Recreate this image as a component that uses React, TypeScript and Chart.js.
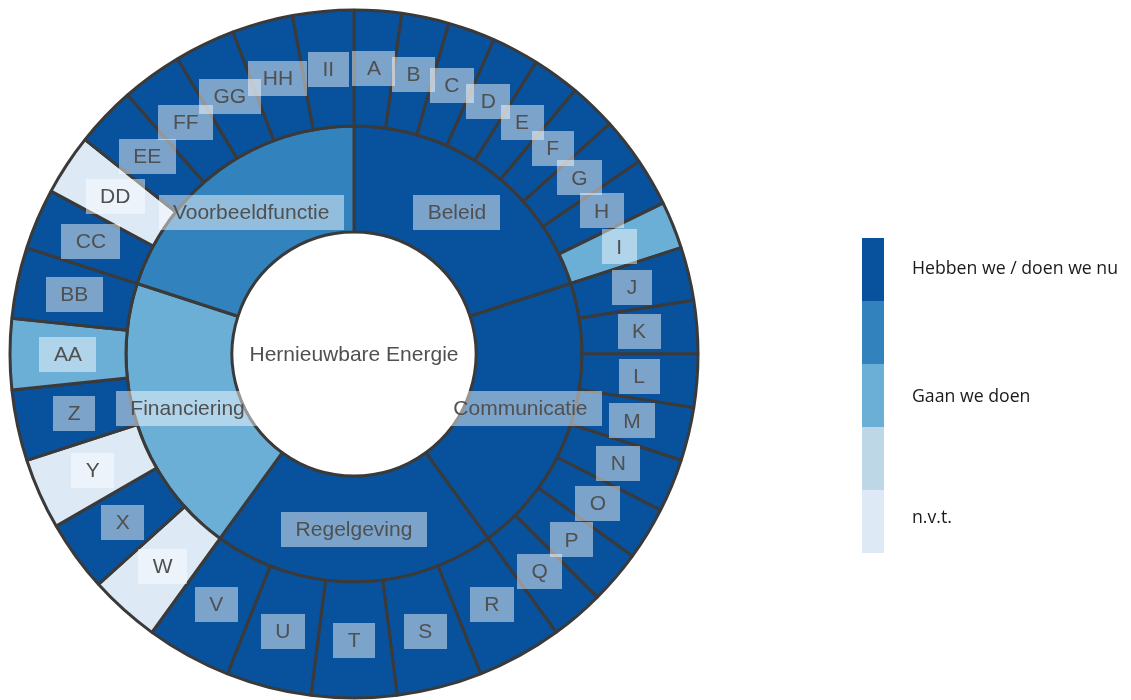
import React, { useEffect, useRef } from 'react';
import { Chart, registerables } from 'chart.js';

Chart.register(...registerables);

const centerLabel = 'Hernieuwbare Energie';

const statusLabels = ['Hebben we / doen we nu', '', 'Gaan we doen', '', 'n.v.t.'];
const statusColors = ['#08519c', '#3182bd', '#6baed6', '#bdd7e7', '#dde9f5'];

const themeLabels = ['Beleid', 'Communicatie', 'Regelgeving', 'Financiering', 'Voorbeeldfunctie'];
const themeValues = [72, 72, 72, 72, 72];
const themeStatus = [0, 0, 0, 2, 1];

const itemLabels = [
  'A', 'B', 'C', 'D', 'E', 'F', 'G', 'H', 'I',
  'J', 'K', 'L', 'M', 'N', 'O', 'P', 'Q',
  'R', 'S', 'T', 'U', 'V',
  'W', 'X', 'Y', 'Z', 'AA', 'BB',
  'CC', 'DD', 'EE', 'FF', 'GG', 'HH', 'II',
];
const itemValues = [
  8, 8, 8, 8, 8, 8, 8, 8, 8,
  9, 9, 9, 9, 9, 9, 9, 9,
  14.4, 14.4, 14.4, 14.4, 14.4,
  12, 12, 12, 12, 12, 12,
  10.29, 10.29, 10.29, 10.29, 10.29, 10.29, 10.29,
];
const itemStatus = [
  0, 0, 0, 0, 0, 0, 0, 0, 2,
  0, 0, 0, 0, 0, 0, 0, 0,
  0, 0, 0, 0, 0,
  4, 0, 4, 0, 2, 0,
  0, 4, 0, 0, 0, 0, 0,
];

const LABEL_FONT = '21px "Liberation Sans", Arial, sans-serif';
const LEGEND_FONT = '17.7px "Open Sans", sans-serif';

function drawBoxLabel(ctx: CanvasRenderingContext2D, text: string, x: number, y: number) {
  ctx.font = LABEL_FONT;
  const w = Math.round(ctx.measureText(text).width + 29);
  const h = 35;
  ctx.fillStyle = 'rgba(255,255,255,0.47)';
  ctx.fillRect(Math.round(x - w / 2), Math.round(y - h / 2), w, h);
  ctx.fillStyle = '#505050';
  ctx.textAlign = 'center';
  ctx.textBaseline = 'middle';
  ctx.fillText(text, x, y + 1);
}

const labelPlugin = {
  id: 'arcLabels',
  afterDatasetsDraw(chart: any) {
    const ctx = chart.ctx as CanvasRenderingContext2D;
    ctx.save();
    let cx = 0;
    let cy = 0;
    chart.data.datasets.forEach((ds: any, di: number) => {
      const meta = chart.getDatasetMeta(di);
      meta.data.forEach((arc: any, i: number) => {
        const p = arc.getProps(['x', 'y', 'startAngle', 'endAngle', 'innerRadius', 'outerRadius'], true);
        cx = p.x;
        cy = p.y;
        const a = (p.startAngle + p.endAngle) / 2;
        const r = (p.innerRadius + p.outerRadius) / 2;
        drawBoxLabel(ctx, ds.names[i], p.x + Math.cos(a) * r, p.y + Math.sin(a) * r);
      });
    });
    drawBoxLabel(ctx, centerLabel, cx, cy);
    ctx.restore();
  },
};

const legendPlugin = {
  id: 'sideLegend',
  afterDraw(chart: any) {
    const ctx = chart.ctx as CanvasRenderingContext2D;
    ctx.save();
    const x0 = 862;
    const y0 = 238;
    const bw = 22;
    const bh = 63;
    const textOffsets = [-1, 0, 1, 0, -4];
    statusColors.forEach((c, i) => {
      ctx.fillStyle = c;
      ctx.fillRect(x0, y0 + i * bh, bw, bh);
      if (statusLabels[i]) {
        ctx.font = LEGEND_FONT;
        ctx.fillStyle = '#1a1a1a';
        ctx.textAlign = 'left';
        ctx.textBaseline = 'middle';
        ctx.fillText(statusLabels[i], 912, y0 + i * bh + bh / 2 + textOffsets[i]);
      }
    });
    ctx.restore();
  },
};

export default function App() {
  const ref = useRef<HTMLCanvasElement>(null);
  useEffect(() => {
    if (!ref.current) return;
    const chart = new Chart(ref.current, {
      type: 'doughnut',
      data: {
        labels: itemLabels,
        datasets: [
          {
            names: itemLabels,
            data: itemValues,
            backgroundColor: itemStatus.map((s) => statusColors[s]),
            borderColor: '#3a3a3a',
            borderWidth: 3,
            weight: 116,
          } as any,
          {
            names: themeLabels,
            data: themeValues,
            backgroundColor: themeStatus.map((s) => statusColors[s]),
            borderColor: '#3a3a3a',
            borderWidth: 3,
            weight: 106,
          } as any,
        ],
      },
      options: {
        responsive: false,
        animation: false,
        events: [],
        radius: 344,
        cutout: '35.47%',
        layout: { padding: { left: 8, top: 8, right: 431, bottom: 0 } },
        plugins: {
          legend: { display: false },
          tooltip: { enabled: false },
        },
      } as any,
      plugins: [labelPlugin, legendPlugin],
    });
    return () => chart.destroy();
  }, []);
  return (
    <canvas
      ref={ref}
      width={1131}
      height={700}
      style={{ position: 'fixed', left: 0, top: 0, width: 1131, height: 700 }}
    />
  );
}
